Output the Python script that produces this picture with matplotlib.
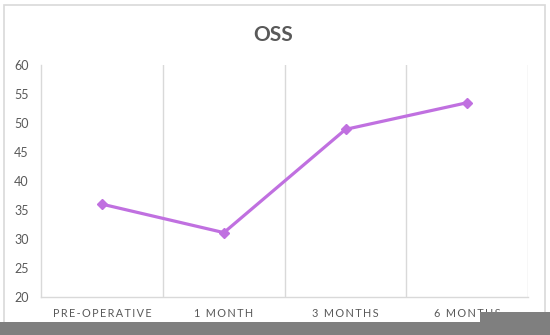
import matplotlib
matplotlib.use("Agg")
import matplotlib.pyplot as plt
from matplotlib.patches import Rectangle

categories = ["PRE-OPERATIVE", "1 MONTH", "3 MONTHS", "6 MONTHS"]
values = [36.0, 31.1, 48.9, 53.5]
yticks = [20, 25, 30, 35, 40, 45, 50, 55, 60]

plt.rcParams['font.family'] = ['Lato', 'DejaVu Sans']

fig = plt.figure(figsize=(5.5, 3.35), dpi=100)
fig.patch.set_facecolor('white')

# outer chart border
fig.add_artist(Rectangle((4/550, 0), 541/550, 1 - 5/335, transform=fig.transFigure,
                         fill=False, edgecolor='#d9d9d9', linewidth=1.2))

ax = fig.add_axes([41.4/550, 1 - 297/335, (528 - 41.4)/550, (297 - 65)/335])
x = list(range(len(categories)))
ax.plot(x, values, color='#C070E0', linewidth=2.3, marker='D', markersize=5.5,
        markeredgecolor='#C070E0', markerfacecolor='#C070E0', zorder=3)

ax.set_xlim(-0.5, len(categories) - 0.5)
ax.set_ylim(20, 60)
ax.set_yticks(yticks)
ax.set_xticks(x)
spaced = [chr(0x2009).join(list(c)) for c in categories]
ax.set_xticklabels(spaced)

for gx in [i + 0.5 for i in range(len(categories))]:
    ax.axvline(gx, color='#d9d9d9', linewidth=1.0, zorder=1)

for s in ['top', 'right']:
    ax.spines[s].set_visible(False)
for s in ['left', 'bottom']:
    ax.spines[s].set_color('#d9d9d9')
    ax.spines[s].set_linewidth(1.0)

ax.tick_params(axis='y', length=0, pad=9, labelsize=9, labelcolor='#595959')
ax.tick_params(axis='x', length=0, pad=8, labelsize=7.8, labelcolor='#595959')

fig.text(273.6/550, 1 - 35/335, "OSS", ha='center', va='center', fontsize=15,
         fontweight='bold', color='#595959')

# gray overlay artifacts at the bottom of the reference image
fig.add_artist(Rectangle((0, 0), 1, 13/335, transform=fig.transFigure,
                         facecolor='#7f7f7f', edgecolor='none', zorder=10))
fig.add_artist(Rectangle((480/550, 0), 70/550, 23/335, transform=fig.transFigure,
                         facecolor='#7f7f7f', edgecolor='none', zorder=10))

fig.savefig("out.png", dpi=100)
